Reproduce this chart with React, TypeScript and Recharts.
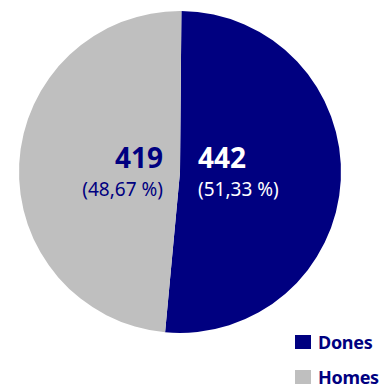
import React from 'react'
import { PieChart, Pie, Cell, Legend } from 'recharts'

const categories = ['Dones', 'Homes']
const values = [442, 419]
const percentLabels = ['(51,33 %)', '(48,67 %)']
const colors = ['#000080', '#bfbfbf']
const labelColors = ['#ffffff', '#000080']

const data = categories.map((name, i) => ({ name, value: values[i] }))

const renderLabel = (props: any) => {
  const { cx, cy, index } = props
  const right = index === 0
  const x = right ? cx + 18 : cx - 17
  const anchor = right ? 'start' : 'end'
  return (
    <g>
      <text x={x} y={cy - 4} textAnchor={anchor} fill={labelColors[index]} fontSize={28} fontWeight="bold">
        {values[index]}
      </text>
      <text x={x} y={cy + 24} textAnchor={anchor} fill={labelColors[index]} fontSize={19}>
        {percentLabels[index]}
      </text>
    </g>
  )
}

const renderLegend = () => (
  <div style={{ position: 'relative', width: 88, height: 56 }}>
    {categories.map((c, i) => (
      <div key={c} style={{ display: 'flex', alignItems: 'center', height: 35, whiteSpace: 'nowrap', lineHeight: 1 }}>
        <span style={{ display: 'inline-block', width: 16, height: 14, background: colors[i], marginRight: 7, flexShrink: 0 }} />
        <span style={{ color: '#000080', fontWeight: 'bold', fontSize: 18, letterSpacing: -0.3, lineHeight: 1 }}>{c}</span>
      </div>
    ))}
  </div>
)

export default function App() {
  return (
    <div style={{ position: 'absolute', left: 0, top: 0, fontFamily: '"Noto Sans", sans-serif' }}>
      <PieChart width={385} height={387} margin={{ top: 0, right: 0, bottom: 0, left: 0 }}>
        <Pie
          data={data}
          dataKey="value"
          nameKey="name"
          cx={180}
          cy={172}
          outerRadius={161}
          startAngle={89.5}
          endAngle={-270.5}
          stroke="none"
          label={renderLabel}
          labelLine={false}
          isAnimationActive={false}
        >
          {data.map((d, i) => (
            <Cell key={d.name} fill={colors[i]} />
          ))}
        </Pie>
        <Legend content={renderLegend} wrapperStyle={{ left: 295, top: 324, width: 88 }} />
      </PieChart>
    </div>
  )
}
